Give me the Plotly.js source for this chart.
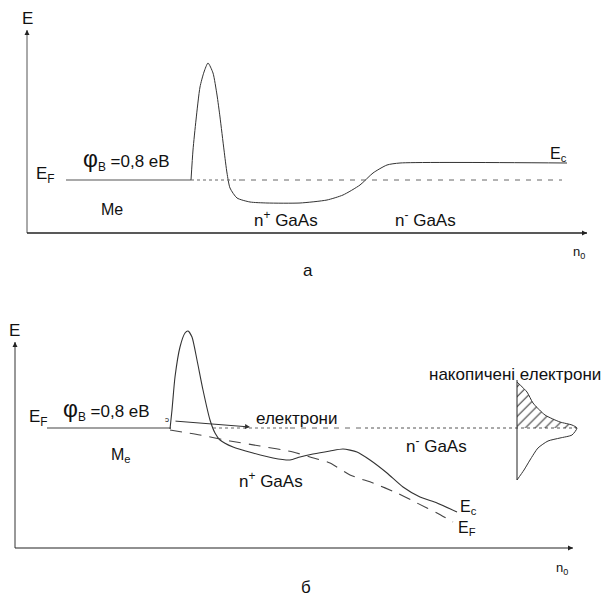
<!DOCTYPE html>
<html><head><meta charset="utf-8">
<script src="https://cdn.plot.ly/plotly-3.0.1.min.js"></script>
<style>html,body{margin:0;padding:0;background:#fff}</style>
</head><body><div id="chart" style="width:608px;height:597px"></div>
<script>
// Panel a (coordinates relative to the axes origin)
const aMetalX = [39, 164], aMetalY = [53, 53];
const aBandX = [164,166,169,173,177,181,186,190,193,197,200,203,210,223,240,273,300,316,333,346,360,373,540];
const aBandY = [53,83,113,146,161,170,160,138,116,83,60,45,35,31,30,30,33,38,48,60,68,70,70];
const aFermiDotX = [164, 213], aFermiDotY = [53, 53];
const aFermiDashX = [213, 535], aFermiDashY = [53, 53];
const aAxisYX = [0, 0], aAxisYY = [0, 203];
const aAxisXX = [0, 560], aAxisXY = [0, 0];

// Panel b
const bMetalX = [32, 156], bMetalY = [120, 120];
const bBandX = [155,157,160,165,170,173,177,182,188,195,200,205,218,238,258,275,285,298,315,328,342,355,372,388,405,422,442];
const bBandY = [119,138,171,201,215,217,211,188,158,128,115,108,101,95,90,88,91,94,97,99,96,88,75,61,51,45,36];
const bFermiX = [155,185,215,245,278,295,315,335,358,382,402,422,438];
const bFermiY = [118,113,107,102,96,91,85,73,65,55,45,35,26];
const bLevelDotX = [198, 275], bLevelDashX = [275, 350], bLevelDot2X = [350, 562], bLevelY = 120;
const bDistLineX = [502, 502], bDistLineY = [168, 68];
const bDistX = [502,512,518,530,545,557,562,557,545,533,523,515,509,502];
const bDistY = [166,156,145,133,126,123,120,113,110,107,100,88,78,68];
const bHatchX = [502,502,512,518,530,545,557,562,502];
const bHatchY = [120,166,156,145,133,126,123,120,120];
const bArrowFrom = [159, 127], bArrowTo = [235, 121];
const bAxisYX = [0, 0], bAxisYY = [0, 206];
const bAxisXX = [0, 558], bAxisXY = [0, 0];

const lc = '#3a3a3a';
function ln(x, y, xa, ya, dash, w, col) {
  return {type:'scatter', mode:'lines', x:x, y:y, xaxis:xa, yaxis:ya, hoverinfo:'skip',
    line:{color:col||lc, width:w||1, dash:dash||'solid', shape:'spline', smoothing:0.6}};
}
const traces = [
  ln(aAxisYX, aAxisYY, 'x', 'y', 'solid', 1, '#555'),
  ln(aAxisXX, aAxisXY, 'x', 'y', 'solid', 1.3, '#222'),
  ln(aMetalX, aMetalY, 'x', 'y', 'solid', 1.2, '#555'),
  ln(aBandX, aBandY, 'x', 'y', 'solid', 1, '#333'),
  ln(aFermiDotX, aFermiDotY, 'x', 'y', 'dot', 1, '#666'),
  ln(aFermiDashX, aFermiDashY, 'x', 'y', '5px,6px', 1, '#666'),

  ln(bAxisYX, bAxisYY, 'x2', 'y2', 'solid', 1, '#333'),
  ln(bAxisXX, bAxisXY, 'x2', 'y2', 'solid', 1.2, '#222'),
  ln(bMetalX, bMetalY, 'x2', 'y2', 'solid', 1.2, '#444'),
  ln(bBandX, bBandY, 'x2', 'y2', 'solid', 1.1, '#333'),
  ln(bFermiX, bFermiY, 'x2', 'y2', '12px,8px', 1.1, '#444'),
  ln(bLevelDotX, [bLevelY,bLevelY], 'x2', 'y2', 'dot', 1, '#666'),
  ln(bLevelDashX, [bLevelY,bLevelY], 'x2', 'y2', '5px,6px', 1, '#666'),
  ln(bLevelDot2X, [bLevelY,bLevelY], 'x2', 'y2', 'dot', 1, '#555'),
  {type:'scatter', mode:'lines', x:bHatchX, y:bHatchY, xaxis:'x2', yaxis:'y2', hoverinfo:'skip',
   fill:'toself', fillcolor:'rgba(0,0,0,0)', line:{width:0, color:'rgba(0,0,0,0)'},
   fillpattern:{shape:'/', fgcolor:'#333', bgcolor:'rgba(0,0,0,0)', size:7, solidity:0.15}},
  ln(bDistLineX, bDistLineY, 'x2', 'y2', 'solid', 1, '#222'),
  ln(bDistX, bDistY, 'x2', 'y2', 'solid', 1, '#333'),
];

const f = {family:'Liberation Sans, Arial, sans-serif', size:16, color:'#111'};
function t(text, x, y, xa, ya, size, anchor) {
  return {text:text, x:x, y:y, xref:xa, yref:ya, showarrow:false,
    xanchor:anchor||'center', yanchor:'middle',
    font:Object.assign({}, f, size ? {size:size} : {})};
}
function arr(x0, y0, x1, y1, xa, ya, col) {
  return {x:x1, y:y1, ax:x0, ay:y0, xref:xa, yref:ya, axref:xa, ayref:ya,
    showarrow:true, arrowhead:2, arrowsize:1, arrowwidth:1, arrowcolor:col||'#222', text:''};
}
const phi = "<span style='font-size:23px'>φ</span><sub>B</sub> =0,8 eB";
const annotations = [
  arr(aAxisYX[0], aAxisYY[1]-4, aAxisYX[0], aAxisYY[1], 'x', 'y'),
  arr(aAxisXX[1]-4, 0, aAxisXX[1], 0, 'x', 'y'),
  t('E', 0, 215, 'x', 'y', 17),
  t('E<sub>F</sub>', 18, 58, 'x', 'y', 17),
  t(phi, 99, 73, 'x', 'y', 17),
  t('Me', 85, 24, 'x', 'y', 16),
  t('n<sup>+</sup> GaAs', 259, 14, 'x', 'y', 17),
  t('n<sup>-</sup> GaAs', 398, 14, 'x', 'y', 17),
  t('E<sub>c</sub>', 531, 79, 'x', 'y', 16),
  t('n<sub>0</sub>', 552, -19, 'x', 'y', 13),
  t('a', 281, -37, 'x', 'y', 17),

  arr(bAxisYX[0], bAxisYY[1]-4, bAxisYX[0], bAxisYY[1], 'x2', 'y2'),
  arr(bAxisXX[1]-4, 0, bAxisXX[1], 0, 'x2', 'y2'),
  arr(bArrowFrom[0], bArrowFrom[1], bArrowTo[0], bArrowTo[1], 'x2', 'y2', '#333'),
  t('E', -1, 218, 'x2', 'y2', 17),
  t('E<sub>F</sub>', 23, 130, 'x2', 'y2', 17),
  t(phi, 91, 138, 'x2', 'y2', 17),
  t('M<sub>e</sub>', 106, 93, 'x2', 'y2', 16),
  t('ɔ', 152, 129, 'x2', 'y2', 8),
  t('електрони', 281, 130, 'x2', 'y2', 17),
  t('n<sup>-</sup> GaAs', 421, 103, 'x2', 'y2', 17),
  t('n<sup>+</sup> GaAs', 256, 68, 'x2', 'y2', 17),
  t('E<sub>c</sub>', 453, 41, 'x2', 'y2', 16),
  t('E<sub>F</sub>', 452, 20, 'x2', 'y2', 16),
  t('накопичені електрони', 412, 174, 'x2', 'y2', 17, 'left'),
  t('n<sub>0</sub>', 547, -20, 'x2', 'y2', 13),
  t('б', 291, -39, 'x2', 'y2', 17),
];

const hid = {visible:false, fixedrange:true};
const layout = {
  width:608, height:597, margin:{l:0, r:0, t:0, b:0}, showlegend:false,
  paper_bgcolor:'#fff', plot_bgcolor:'rgba(0,0,0,0)',
  xaxis: Object.assign({range:[-27, 581], domain:[0,1], anchor:'y'}, hid),
  yaxis: Object.assign({range:[-57, 233], domain:[1-290/597, 1], anchor:'x'}, hid),
  xaxis2: Object.assign({range:[-15, 593], domain:[0,1], anchor:'y2'}, hid),
  yaxis2: Object.assign({range:[-49, 258], domain:[0, 307/597], anchor:'x2'}, hid),
  annotations: annotations
};
Plotly.newPlot('chart', traces, layout, {staticPlot:true, displayModeBar:false});
</script></body></html>
